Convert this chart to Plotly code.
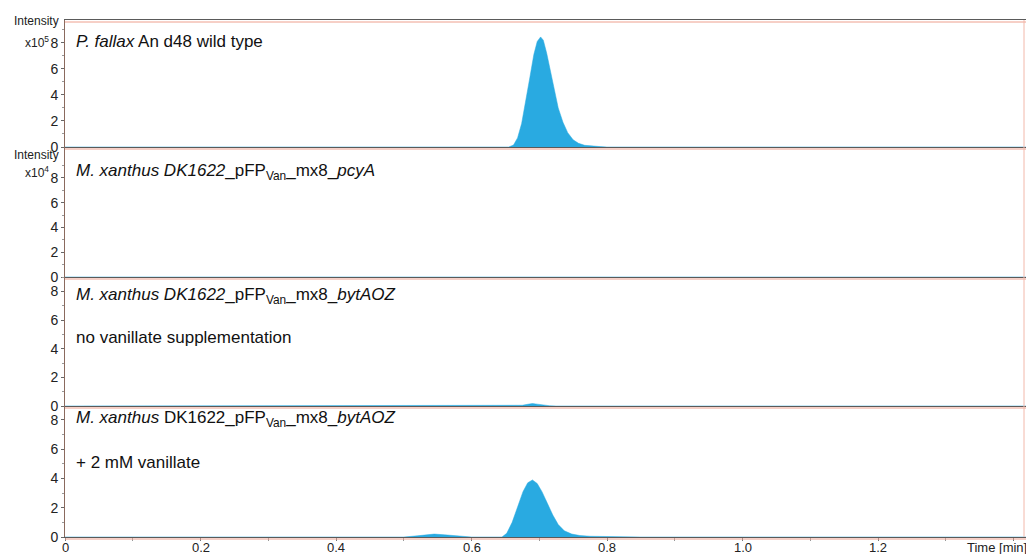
import plotly.graph_objects as go
from plotly.subplots import make_subplots

# ---- data ----
# Panel 1: P. fallax An d48 wild type (x10^5)
t1 = [0.0, 0.55, 0.575, 0.60, 0.655, 0.662, 0.668, 0.674, 0.680, 0.686, 0.692, 0.697, 0.702, 0.706,
      0.711, 0.716, 0.722, 0.728, 0.735, 0.742, 0.750, 0.758, 0.767, 0.778, 0.79, 0.80, 1.42]
i1 = [0.0, 0.0, 0.03, 0.0, 0.0, 0.15, 0.7, 1.8, 3.4, 5.3, 7.1, 8.1, 8.45, 8.2,
      7.2, 5.9, 4.4, 3.0, 1.9, 1.1, 0.55, 0.28, 0.13, 0.06, 0.03, 0.0, 0.0]
# Panel 2: pcyA (x10^4)
t2 = [0.0, 1.42]
i2 = [0.0, 0.0]
# Panel 3: bytAOZ, no vanillate (x10^4)
t3 = [0.0, 0.55, 0.57, 0.59, 0.665, 0.675, 0.683, 0.690, 0.697, 0.705, 0.715, 0.725, 1.42]
i3 = [0.0, 0.0, 0.03, 0.0, 0.0, 0.05, 0.12, 0.17, 0.13, 0.06, 0.02, 0.0, 0.0]
# Panel 4: bytAOZ, + 2 mM vanillate (x10^4)
t4 = [0.0, 0.50, 0.52, 0.535, 0.545, 0.56, 0.575, 0.59, 0.60, 0.645, 0.652, 0.660, 0.668,
      0.676, 0.683, 0.690, 0.697, 0.704, 0.712, 0.720, 0.728, 0.737, 0.748, 0.76, 0.775,
      0.79, 0.81, 0.83, 0.85, 1.42]
i4 = [0.0, 0.0, 0.08, 0.18, 0.2, 0.15, 0.08, 0.03, 0.0, 0.0, 0.25, 1.0, 2.1,
      3.1, 3.7, 3.9, 3.65, 3.1, 2.3, 1.5, 0.85, 0.42, 0.2, 0.1, 0.05,
      0.03, 0.03, 0.02, 0.0, 0.0]

y_ranges = [[0, 9.75], [0, 10.5], [0, 9.0], [0, 8.95]]
y_ticks = [0, 2, 4, 6, 8]
x_ticks = [0, 0.2, 0.4, 0.6, 0.8, 1.0, 1.2, 1.4]
x_ticklabels = ["0", "0.2", "0.4", "0.6", "0.8", "1.0", "1.2", ""]

labels_main = [
    "<i>P. fallax</i> An d48 wild type",
    "<i>M. xanthus DK1622</i>_pFP<sub>Van</sub>_mx8_<i>pcyA</i>",
    "<i>M. xanthus DK1622</i>_pFP<sub>Van</sub>_mx8_<i>bytAOZ</i>",
    "<i>M. xanthus</i> DK1622_pFP<sub>Van</sub>_mx8_<i>bytAOZ</i>",
]
labels_sub = ["", "", "no vanillate supplementation", "+ 2 mM vanillate"]

# ---- layout geometry ----
W, H = 1026, 554
ML, MR, MT, MB = 65, 0, 20, 17
PH = H - MT - MB
PW = W - ML - MR
bounds_px = [20, 147, 277, 406, 537]


def py(ypx):
    return (H - MB - ypx) / PH


def px(xpx):
    return (xpx - ML) / PW


FILL = "#29aae1"
FONT = "Arial, Liberation Sans, sans-serif"

fig = make_subplots(rows=4, cols=1, shared_xaxes=True, vertical_spacing=0)
for k, (t, v) in enumerate([(t1, i1), (t2, i2), (t3, i3), (t4, i4)]):
    fig.add_trace(go.Scatter(x=t, y=v, mode="lines", fill="tozeroy",
                             fillcolor=FILL, line=dict(color=FILL, width=0.5),
                             showlegend=False, hoverinfo="skip"), row=k + 1, col=1)

for k in range(4):
    yn = "yaxis" if k == 0 else f"yaxis{k+1}"
    xn = "xaxis" if k == 0 else f"xaxis{k+1}"
    fig.layout[yn].update(
        domain=[py(bounds_px[k + 1]), py(bounds_px[k])],
        range=y_ranges[k], tickvals=y_ticks, ticktext=[str(v) for v in y_ticks],
        ticks="outside", ticklen=3, tickcolor="#666", showgrid=False, zeroline=False,
        showline=True, linecolor="#8a6a5e", linewidth=1, automargin=False,
        tickfont=dict(family=FONT, size=14, color="#222"),
        minor=dict(tickvals=[1, 3, 5, 7, 9], ticks="outside", ticklen=2, tickcolor="#999"),
        fixedrange=True,
    )
    fig.layout[xn].update(
        range=[0, PW / 677.5], showgrid=False, zeroline=False, automargin=False,
        showline=True, mirror=(k == 0), linecolor="#5a5a5a", linewidth=1.2,
        ticks="", showticklabels=False,
    )
fig.layout["xaxis4"].update(
    tickvals=x_ticks, showticklabels=False,
    ticks="outside", ticklen=3, tickcolor="#777",
    minor=dict(tickvals=[0.1, 0.3, 0.5, 0.7, 0.9, 1.1, 1.3], ticks="outside",
               ticklen=3, tickcolor="#999"),
)

shapes = []
# salmon panel borders just below each dark line
for b in bounds_px:
    shapes.append(dict(type="line", xref="paper", yref="paper", x0=0, x1=1,
                       y0=py(b + 2), y1=py(b + 2),
                       line=dict(color="#eea08e", width=1)))
shapes.append(dict(type="line", xref="paper", yref="paper", x0=px(1024), x1=px(1024),
                   y0=py(537), y1=py(20), line=dict(color="#f2b8aa", width=1)))
fig.update_layout(shapes=shapes)

ann = []
main_y = [42, 172, 296, 419]
sub_y = [None, None, 337, 462]
for k in range(4):
    ann.append(dict(x=px(74), y=py(main_y[k]), xref="paper", yref="paper",
                    text=labels_main[k], showarrow=False, xanchor="left", yanchor="middle",
                    font=dict(family=FONT, size=17, color="#111")))
    if labels_sub[k]:
        ann.append(dict(x=px(74), y=py(sub_y[k]), xref="paper", yref="paper",
                        text=labels_sub[k], showarrow=False, xanchor="left", yanchor="middle",
                        font=dict(family=FONT, size=17, color="#111")))
# x tick labels (placed on the x4 scale, raised to sit tight under the axis)
for tv, tl in zip(x_ticks, x_ticklabels):
    if tl:
        ann.append(dict(x=tv, y=py(547.5), xref="x4", yref="paper", text=tl,
                        showarrow=False, xanchor="center", yanchor="middle",
                        font=dict(family=FONT, size=13, color="#222")))
# intensity labels
for ylab, yexp, exp in [(21, 42, "5"), (155, 172, "4")]:
    ann.append(dict(x=px(61), y=py(ylab), xref="paper", yref="paper", text="Intensity",
                    showarrow=False, xanchor="right", yanchor="middle",
                    font=dict(family=FONT, size=12, color="#222")))
    ann.append(dict(x=px(51), y=py(yexp), xref="paper", yref="paper",
                    text=f"x10<sup>{exp}</sup>",
                    showarrow=False, xanchor="right", yanchor="middle",
                    font=dict(family=FONT, size=12, color="#222")))
ann.append(dict(x=px(965), y=py(547.5), xref="paper", yref="paper", text="Time [min]",
                showarrow=False, xanchor="left", yanchor="middle",
                font=dict(family=FONT, size=13, color="#222")))
fig.update_layout(annotations=ann)

fig.update_layout(
    width=W, height=H, margin=dict(l=ML, r=MR, t=MT, b=MB, autoexpand=False),
    paper_bgcolor="white", plot_bgcolor="white", showlegend=False,
)

fig.write_html("out.html", include_plotlyjs=True, config={"displayModeBar": False},
               post_script="document.body.style.margin='0px';document.body.style.overflow='hidden';")
